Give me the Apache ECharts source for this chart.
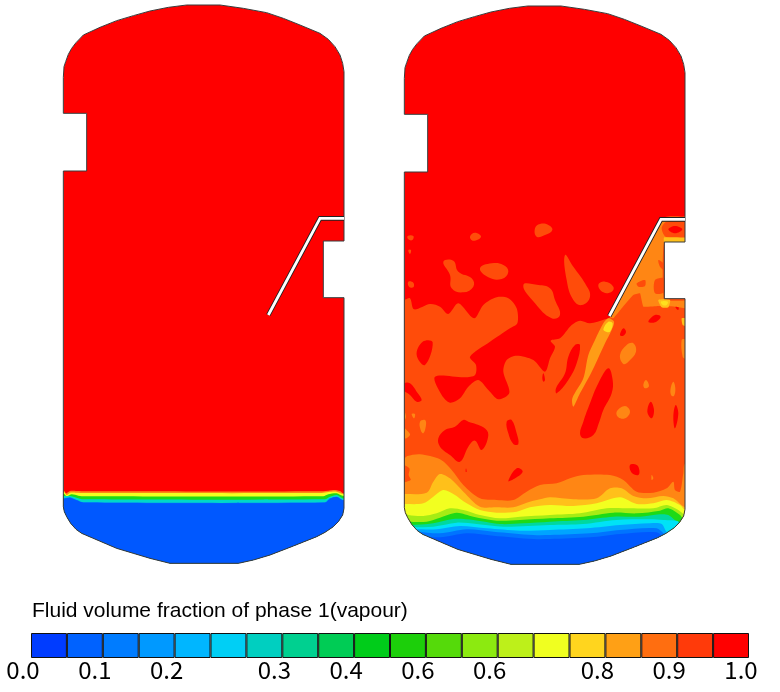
<!DOCTYPE html>
<html><head><meta charset="utf-8">
<style>html,body{margin:0;padding:0;background:#fff}#c{width:780px;height:692px}</style>
<script src="https://cdn.jsdelivr.net/npm/echarts@6/dist/echarts.min.js"></script>
</head><body><div id="c"></div>
<script>
const legendTitle = 'Fluid volume fraction of phase 1(vapour)';
const barColors = ['#003CFF','#0062FF','#007CFF','#0099FF','#00B6FF','#00CFF5','#00CFC0','#00D090','#00CC55','#00CC1A','#1CCF0A','#55DA0A','#8CEA10','#BDF01A','#F0FF20','#FFD51E','#FFA015','#FF6E10','#FF3A0A','#FF0000'];
const tickValues = [0,2,4,7,9,11,13,16,18,20];
const tickLabels = ['0.0','0.1','0.2','0.3','0.4','0.6','0.6','0.8','0.9','1.0'];
const fillColors = {0:'#0058FF',1:'#0074FF',3:'#00A4FF',5:'#00E2F6',6:'#00D8C8',7:'#00D8A0',10:'#1EDA16',12:'#A6EC14',14:'#F2FF20',15:'#FFE01E',16:'#FFC01A',160:'#FF9C16',17:'#FF8614',18:'#FF4C0A',19:'#FF0000'};

// Domain units: thirds of a cell
const vesselOutline = [[190,232],[192,200],[197,185],[205,163],[215,145],[228,128],[250,105],[300,82],[350,62],[400,47],[450,33],[505,22],[560,15],[660,15],[730,25],[800,38],[850,55],[900,75],[960,100],[985,118],[1005,140],[1020,165],[1028,190],[1032,215],[1032,723],[970,723],[970,893],[1032,893],[1032,1525],[1028,1545],[1015,1565],[1000,1580],[975,1597],[950,1610],[880,1638],[810,1665],[760,1680],[715,1690],[510,1690],[450,1675],[400,1660],[350,1645],[245,1600],[228,1588],[212,1570],[200,1550],[193,1535],[190,1520],[190,513],[260,513],[260,340],[190,340]];
const baffleLine = [[805,945],[960,655],[1032,655]];
const rightOffset = [1023,3];

// left vessel interface
const leftBand17 = [[192,1472],[198,1480],[210,1473],[230,1473],[260,1474],[970,1474],[1000,1470],[1020,1473],[1030,1480]];
const leftBand14 = [[192,1476],[200,1485],[210,1478],[230,1478],[255,1479],[965,1479],[985,1476],[1010,1475],[1030,1482]];
const leftBand10 = [[192,1482],[200,1489],[215,1483],[235,1487],[255,1489],[970,1489],[985,1483],[1010,1480],[1030,1488]];
const leftBand6 = [[195,1488],[210,1488],[230,1493],[250,1498],[975,1498],[990,1490],[1010,1485],[1030,1495]];
const leftBand1 = [[192,1495],[210,1492],[230,1500],[250,1507],[975,1507],[990,1495],[1010,1490],[1030,1500]];

// right vessel: main field
const mainField = [[1150,900],[1212,900],[1230,895],[1242,928],[1290,912],[1320,920],[1345,942],[1375,910],[1422,955],[1450,915],[1490,892],[1525,895],[1550,925],[1552,970],[1530,985],[1500,1005],[1470,1025],[1410,1070],[1428,1095],[1425,1125],[1395,1132],[1305,1130],[1325,1185],[1350,1208],[1380,1195],[1405,1160],[1435,1140],[1465,1170],[1495,1198],[1528,1178],[1510,1115],[1520,1080],[1550,1067],[1600,1080],[1635,1115],[1650,1075],[1665,1040],[1652,1022],[1680,1015],[1715,975],[1740,962],[1770,970],[1815,958],[1830,952],[1840,932],[1975,680],[1985,660],[2000,658],[2100,658],[2100,2100],[1150,2100]];
const redHoles = [
 [[1250,1065],[1268,1025],[1298,1027],[1275,1095]],
 [[1212,1150],[1230,1150],[1250,1175],[1265,1200],[1250,1205],[1230,1185],[1205,1165]],
 [[1630,1120],[1635,1140],[1630,1145],[1627,1135]],
 [[1725,1035],[1740,1035],[1730,1090],[1705,1140],[1670,1180],[1668,1165],[1695,1120],[1705,1070]],
 [[1825,1105],[1838,1140],[1835,1180],[1810,1230],[1798,1265],[1780,1305],[1750,1315],[1740,1300],[1750,1265],[1770,1210],[1795,1150]],
 [[1870,985],[1878,995],[1870,1007],[1860,1005]],
 [[1965,945],[1982,950],[1965,967],[1945,965]],
 [[1952,1205],[1962,1230],[1955,1255],[1942,1235]],
 [[2027,1215],[2035,1240],[2025,1285],[2020,1250]],
 [[1315,1315],[1335,1290],[1365,1280],[1390,1260],[1405,1265],[1450,1282],[1465,1305],[1445,1350],[1425,1322],[1405,1340],[1380,1385],[1350,1365],[1320,1340]],
 [[1520,1265],[1535,1260],[1550,1300],[1555,1332],[1540,1332],[1525,1300]],
 [[1525,1443],[1550,1405],[1568,1415],[1540,1438]],
 [[1398,1405],[1400,1415],[1397,1415]],
 [[1890,1395],[1910,1395],[1918,1410],[1915,1425],[1895,1418]],
 [[2025,912],[2035,915],[2035,930],[2028,925]]
];
const upperPatches = [
 [[1605,685],[1620,672],[1645,675],[1657,690],[1635,705],[1610,710]],
 [[1410,710],[1425,698],[1443,710],[1420,722]],
 [[1223,708],[1240,708],[1237,720],[1225,718]],
 [[1225,750],[1233,750],[1230,762]],
 [[1330,785],[1360,782],[1375,815],[1415,835],[1420,860],[1390,877],[1355,865],[1350,825]],
 [[1440,805],[1475,790],[1510,795],[1525,815],[1505,837],[1465,832]],
 [[1225,845],[1240,848],[1240,862],[1227,860]],
 [[1695,765],[1720,800],[1755,850],[1770,890],[1745,915],[1720,900],[1700,840]],
 [[1570,855],[1615,855],[1650,865],[1665,900],[1680,945],[1655,955],[1605,910]],
 [[1795,855],[1815,845],[1840,860],[1835,875],[1810,877]],
 [[1990,655],[2015,648],[2053,652],[2053,660]]
];
const nozzleZone = [[1830,950],[1985,662],[2100,662],[2100,725],[1993,725],[1993,900],[2100,900],[2100,930],[2025,920],[1975,918],[1930,920],[1920,880],[1900,885],[1865,925],[1840,955]];
const nozzleField = [[[2000,665],[2100,665],[2100,718],[2000,712],[1985,685]],[[1975,780],[1990,790],[1993,810],[1980,800]],[[1965,840],[1995,835],[1995,875],[1965,880]],[[1910,850],[1935,840],[1935,858],[1915,860]]];
const nozzleRed = [[2005,688],[2025,678],[2047,688],[2025,700]];
const nozzleAmber = [[[1993,712],[2100,716],[2100,726],[1993,726]],[[1975,900],[2010,900],[2005,922],[1985,922]],[[2045,955],[2058,955],[2058,978],[2048,975]]];
const nozzleYellow = [[1983,905],[2003,905],[2000,915],[1988,915]];
const jetStrip = [[1825,955],[1842,965],[1835,990],[1815,1030],[1785,1095],[1765,1135],[1740,1180],[1720,1220],[1717,1195],[1750,1135],[1765,1065],[1785,1020],[1810,970]];
const jetCore = [[1810,988],[1825,965],[1838,970],[1830,995],[1818,995]];
const lowerPatches = [
 [[1860,1065],[1880,1035],[1900,1030],[1908,1055],[1885,1085],[1870,1092]],
 [[1930,1155],[1938,1140],[1947,1158],[1935,1165]],
 [[2012,1165],[2020,1145],[2026,1165],[2022,1188],[2013,1185]],
 [[1850,1235],[1875,1218],[1890,1235],[1875,1255],[1855,1252]],
 [[1260,1265],[1275,1260],[1278,1275],[1270,1300],[1262,1290]],
 [[1212,1285],[1225,1295],[1230,1305],[1215,1315]],
 [[1235,1242],[1245,1242],[1242,1255]],
 [[1210,1230],[1218,1250],[1210,1262]],
 [[2045,1020],[2056,1020],[2056,1075],[2048,1070]],
 [[1955,1425],[1960,1435],[1955,1440]]
];
const rightBand17 = [[1212,1375],[1222,1368],[1260,1363],[1320,1378],[1355,1410],[1390,1455],[1440,1495],[1490,1500],[1540,1500],[1580,1475],[1620,1455],[1670,1450],[1710,1435],[1750,1425],[1830,1425],[1870,1440],[1910,1475],[1960,1478],[2000,1465],[2020,1445],[2025,1470],[2040,1475],[2050,1420],[2057,1390]];
const rightNotch = [[1205,1395],[1228,1405],[1226,1425],[1232,1440],[1205,1445]];
const rightBand16 = [[1212,1482],[1280,1478],[1300,1445],[1320,1422],[1350,1435],[1390,1475],[1440,1520],[1490,1522],[1540,1522],[1580,1508],[1620,1498],[1650,1492],[1720,1498],[1790,1495],[1830,1465],[1865,1465],[1900,1488],[1940,1495],[1990,1488],[2020,1495],[2057,1522]];
const rightBand14 = [[1212,1512],[1270,1510],[1300,1490],[1330,1470],[1360,1482],[1400,1510],[1440,1530],[1490,1538],[1550,1535],[1590,1522],[1650,1515],[1720,1518],[1790,1510],[1860,1492],[1910,1512],[1960,1510],[2000,1500],[2040,1515],[2057,1530]];
const rightBand12 = [[1212,1540],[1225,1545],[1270,1548],[1310,1540],[1350,1525],[1390,1530],[1440,1545],[1500,1555],[1560,1550],[1650,1545],[1740,1540],[1820,1525],[1890,1525],[1960,1525],[2000,1515],[2035,1530],[2057,1545]];
const rightBand10 = [[1222,1565],[1280,1565],[1320,1553],[1370,1538],[1420,1550],[1490,1562],[1560,1560],[1650,1555],[1750,1550],[1840,1538],[1910,1540],[1980,1532],[2005,1525],[2040,1545],[2050,1555]];
const rightBand7 = [[1230,1575],[1300,1570],[1360,1557],[1420,1560],[1500,1572],[1570,1570],[1650,1565],[1750,1560],[1840,1550],[1920,1550],[1980,1543],[2005,1545],[2035,1565]];
const rightBand5 = [[1238,1582],[1300,1580],[1370,1568],[1430,1572],[1510,1580],[1650,1575],[1750,1572],[1850,1560],[1950,1558],[1990,1560],[2035,1565],[2015,1595]];
const rightBand3 = [[1245,1588],[1310,1588],[1380,1578],[1460,1585],[1560,1592],[1650,1590],[1760,1585],[1860,1575],[1950,1570],[1985,1572],[2005,1600]];
const rightBand1 = [[1250,1595],[1320,1600],[1400,1588],[1480,1595],[1600,1605],[1650,1605],[1770,1600],[1860,1590],[1970,1585],[2000,1605]];

function band(curve){
  const a=curve[0], b=curve[curve.length-1];
  return [[a[0]-160,a[1]],...curve,[b[0]+160,b[1]],[b[0]+160,2100],[a[0]-160,2100]];
}
const rightOutline = vesselOutline.map(p=>[p[0]+rightOffset[0],p[1]+rightOffset[1]]);
const rightBaffle = baffleLine.map(p=>[p[0]+rightOffset[0],p[1]+rightOffset[1]]);

const leftRegions = [
 {c:19,pts:vesselOutline,s:0},
 {c:17,pts:band(leftBand17),s:.25},{c:14,pts:band(leftBand14),s:.25},{c:10,pts:band(leftBand10),s:.25},
 {c:6,pts:band(leftBand6),s:.25},{c:1,pts:band(leftBand1),s:.25},{c:0,pts:band(leftBand1.map(p=>[p[0],p[1]+1])),s:.25}
].map(r=>({...r,clip:vesselOutline}));
const rightRegions = [
 {c:19,pts:rightOutline,s:0},
 {c:18,pts:mainField,s:.3},
 ...upperPatches.map(p=>({c:18,pts:p,s:.45})),
 ...redHoles.map(p=>({c:19,pts:p,s:.4})),
 {c:17,pts:nozzleZone,s:.1},
 ...nozzleField.map(p=>({c:18,pts:p,s:.3})),
 {c:19,pts:nozzleRed,s:.4},
 ...nozzleAmber.map(p=>({c:16,pts:p,s:.2})),
 {c:15,pts:nozzleYellow,s:.4},
 {c:160,pts:jetStrip,s:.3},{c:15,pts:jetCore,s:.4},
 ...lowerPatches.map(p=>({c:17,pts:p,s:.4})),
 {c:17,pts:band(rightBand17),s:.3},{c:18,pts:rightNotch,s:.3},
 {c:16,pts:band(rightBand16),s:.3},{c:14,pts:band(rightBand14),s:.3},{c:12,pts:band(rightBand12),s:.3},
 {c:10,pts:band(rightBand10),s:.3},{c:7,pts:band(rightBand7),s:.3},{c:5,pts:band(rightBand5),s:.3},
 {c:3,pts:band(rightBand3),s:.3},{c:1,pts:band(rightBand1),s:.3},
 {c:0,pts:band(rightBand1.map(p=>[p[0],p[1]+12])),s:.3}
].map(r=>({...r,clip:rightOutline}));

const regions = [...leftRegions,...rightRegions];
const edges = [{o:vesselOutline,b:baffleLine},{o:rightOutline,b:rightBaffle}];

function renderRegion(params,api){
  const r = regions[api.value(0)];
  return {type:'polygon',
    shape:{points:r.pts.map(p=>api.coord(p)),smooth:r.s},
    style:{fill:fillColors[r.c]},
    clipPath:{type:'polygon',shape:{points:r.clip.map(p=>api.coord(p))}}};
}
function renderEdges(params,api){
  const e = edges[api.value(0)];
  return {type:'group',children:[
    {type:'polygon',shape:{points:e.o.map(p=>api.coord(p))},style:{fill:'none',stroke:'#3a3a3a',lineWidth:1}},
    {type:'polyline',shape:{points:e.b.map(p=>api.coord(p))},style:{fill:'none',stroke:'#222',lineWidth:4.6}},
    {type:'polyline',shape:{points:e.b.map(p=>api.coord(p))},style:{fill:'none',stroke:'#fff',lineWidth:2.8}}
  ]};
}
const chart = echarts.init(document.getElementById('c'),null,{renderer:'canvas'});
chart.setOption({
  animation:false,backgroundColor:'#fff',
  title:{text:legendTitle,left:27,top:596,textStyle:{fontFamily:'Liberation Sans',fontSize:21,fontWeight:'normal',color:'#000'}},
  grid:[{left:0,top:0,width:780,height:692},{left:31,top:633,width:718,height:25}],
  xAxis:[{gridIndex:0,type:'value',min:0,max:2340,show:false},
    {gridIndex:1,type:'value',min:0,max:20,interval:1,axisLine:{show:false},axisTick:{show:false},splitLine:{show:false},
     axisLabel:{show:true,margin:0,fontFamily:'Noto Sans CJK JP',fontSize:24,lineHeight:24,color:'#000',showMinLabel:true,showMaxLabel:true,hideOverlap:false,
       align:'center',padding:[0,16,0,0],formatter:v=>{const i=tickValues.indexOf(v);return i<0?'':tickLabels[i];}}}],
  yAxis:[{gridIndex:0,type:'value',min:0,max:2076,inverse:true,show:false},
    {gridIndex:1,type:'value',min:0,max:1,show:false}],
  series:[
    {type:'custom',xAxisIndex:0,yAxisIndex:0,silent:true,clip:false,renderItem:renderRegion,data:regions.map((r,i)=>[i])},
    {type:'custom',xAxisIndex:0,yAxisIndex:0,silent:true,clip:false,renderItem:renderEdges,data:edges.map((e,i)=>[i])},
    {type:'bar',xAxisIndex:1,yAxisIndex:1,silent:true,barWidth:35.9,
     data:barColors.map((c,i)=>({value:[i+0.5,1],itemStyle:{color:c,borderColor:'#111',borderWidth:1}}))}
  ]
});
</script></body></html>
